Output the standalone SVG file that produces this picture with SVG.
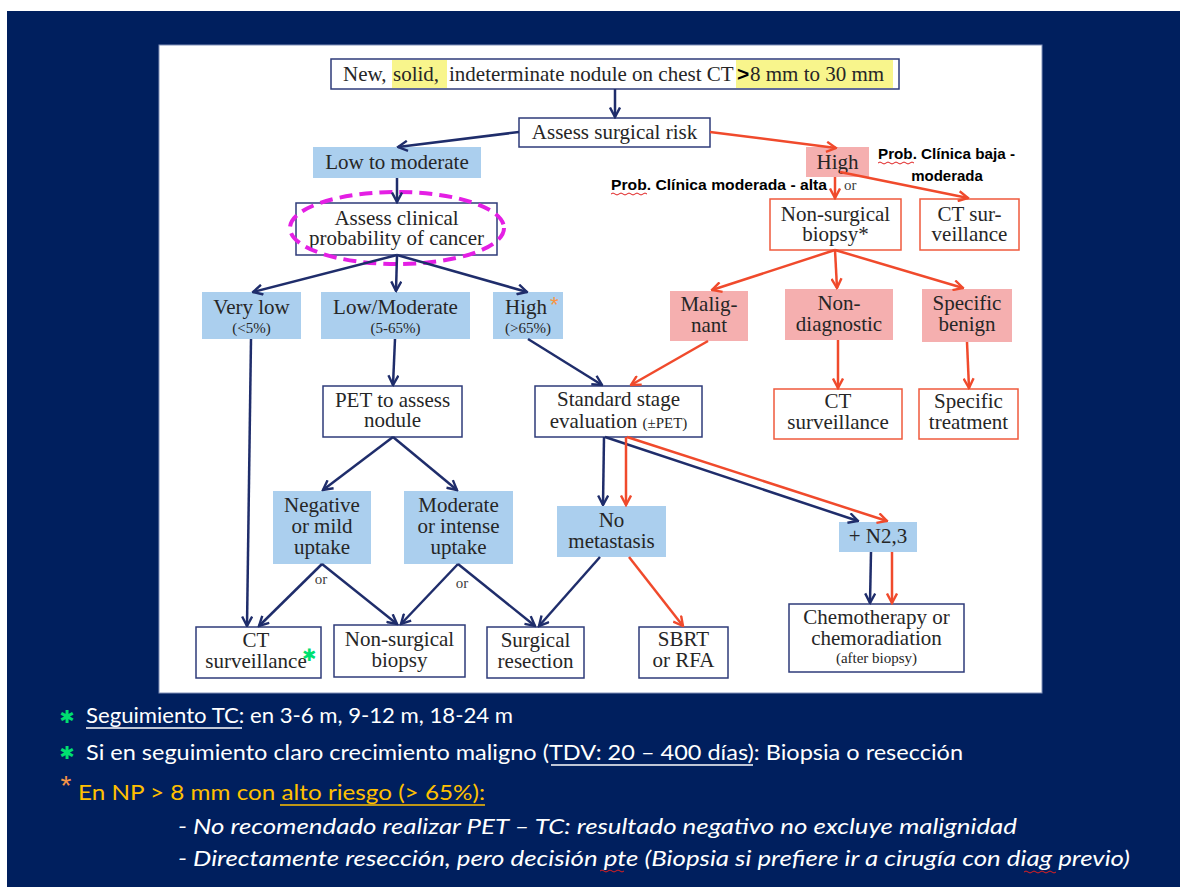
<svg xmlns="http://www.w3.org/2000/svg" width="1180" height="887" viewBox="0 0 1180 887">
<defs>
<style>
.bx{fill:#fff;stroke:#2e3b7a;stroke-width:1.5}
.rbx{fill:#fff;stroke:#ef5a3c;stroke-width:1.5}
.bf{fill:#abcfee}
.pf{fill:#f5afaf}
.t{font-family:"Liberation Serif","Times New Roman",serif;font-size:21px;fill:#262626;text-anchor:middle}
.s{font-size:15px}
.cb{stroke:#1f2d6b;stroke-width:2.5;fill:none;marker-end:url(#ab)}
.cr{stroke:#f04a2c;stroke-width:2.5;fill:none;marker-end:url(#ar)}
.lab{font-family:"Liberation Sans",Arial,sans-serif;font-weight:bold;font-size:15px;fill:#000}
.bt{font-family:Lato,"Liberation Sans",sans-serif;font-size:22px;fill:#fff}
.it{font-family:Lato,"Liberation Sans",sans-serif;font-size:21px;font-style:italic;fill:#fff}
.sq{fill:none;stroke:#e02020;stroke-width:1}
</style>
<marker id="ab" viewBox="0 0 12 12" refX="10.5" refY="6" markerWidth="12" markerHeight="12" orient="auto" markerUnits="userSpaceOnUse"><path d="M1,1 L10.5,6 L1,11" fill="none" stroke="#1f2d6b" stroke-width="2.4"/></marker>
<marker id="ar" viewBox="0 0 12 12" refX="10.5" refY="6" markerWidth="12" markerHeight="12" orient="auto" markerUnits="userSpaceOnUse"><path d="M1,1 L10.5,6 L1,11" fill="none" stroke="#f04a2c" stroke-width="2.4"/></marker>
</defs>
<rect x="0" y="0" width="1180" height="887" fill="#fff"/>
<rect x="7" y="11" width="1173" height="876" fill="#001f5e"/>
<rect x="159" y="45" width="883" height="648" fill="#fff" stroke="#8090b8" stroke-width="1"/>

<g id="n-top">
<rect class="bx" x="331" y="59" width="568" height="30"/>
<rect x="392" y="60" width="55" height="28" fill="#f8f58c"/>
<rect x="736" y="60" width="157" height="28" fill="#f8f58c"/>
<text class="t" style="text-anchor:start" y="81"><tspan x="343">New,</tspan><tspan x="393">solid,</tspan><tspan x="449">indeterminate nodule on chest CT</tspan><tspan x="737" style="font-family:'Liberation Sans',sans-serif;font-weight:bold;fill:#000">&gt;</tspan><tspan x="750">8 mm to 30 mm</tspan></text>
</g>
<g id="n-risk"><rect class="bx" x="519" y="118" width="191" height="29"/><text class="t" x="614.5" y="139">Assess surgical risk</text></g>
<g id="n-lowmod"><rect class="bf" x="313" y="147" width="168" height="31"/><text class="t" x="397" y="169">Low to moderate</text></g>
<g id="n-high"><rect class="pf" x="806" y="147" width="63" height="30"/><text class="t" x="837.5" y="169">High</text></g>
<g id="n-assess"><rect class="bx" x="296" y="203" width="201" height="52"/><text class="t" x="396.5" y="225">Assess clinical</text><text class="t" x="396.5" y="245">probability of cancer</text>
<ellipse cx="397" cy="228" rx="107" ry="36" fill="none" stroke="#e41fe4" stroke-width="4" stroke-dasharray="13 7"/></g>
<g id="n-nsb-top"><rect class="rbx" x="770" y="199" width="131" height="51"/><text class="t" x="835.5" y="221">Non-surgical</text><text class="t" x="835.5" y="241">biopsy*</text></g>
<g id="n-ct-top"><rect class="rbx" x="920" y="199" width="99" height="51"/><text class="t" x="969.5" y="221">CT sur-</text><text class="t" x="969.5" y="241">veillance</text></g>
<g id="n-verylow"><rect class="bf" x="202" y="292" width="99" height="47"/><text class="t" x="251.5" y="314">Very low</text><text class="t s" x="251.5" y="333">(&lt;5%)</text></g>
<g id="n-lowmod2"><rect class="bf" x="321" y="292" width="149" height="47"/><text class="t" x="395.5" y="314">Low/Moderate</text><text class="t s" x="395.5" y="333">(5-65%)</text></g>
<g id="n-high2"><rect class="bf" x="493" y="292" width="70" height="47"/><text class="t" x="526" y="314">High</text><text class="t s" x="528" y="333">(&gt;65%)</text><text x="550" y="312" style="font-family:'Liberation Sans',sans-serif;font-size:22px;fill:#f79646">*</text></g>
<g id="n-malig"><rect class="pf" x="670" y="291" width="78" height="50"/><text class="t" x="709" y="311">Malig-</text><text class="t" x="709" y="332">nant</text></g>
<g id="n-nondiag"><rect class="pf" x="785" y="289" width="108" height="51"/><text class="t" x="839" y="310">Non-</text><text class="t" x="839" y="331">diagnostic</text></g>
<g id="n-specben"><rect class="pf" x="922" y="289" width="90" height="53"/><text class="t" x="967" y="310">Specific</text><text class="t" x="967" y="331">benign</text></g>
<g id="n-pet"><rect class="bx" x="323" y="386" width="139" height="51"/><text class="t" x="392.5" y="407">PET to assess</text><text class="t" x="392.5" y="427">nodule</text></g>
<g id="n-stage"><rect class="bx" x="535" y="386" width="167" height="51"/><text class="t" x="618.5" y="406">Standard stage</text><text class="t" x="618.5" y="428">evaluation <tspan class="s">(±PET)</tspan></text></g>
<g id="n-ct-r"><rect class="rbx" x="774" y="389" width="128" height="50"/><text class="t" x="838" y="408">CT</text><text class="t" x="838" y="429">surveillance</text></g>
<g id="n-spectreat"><rect class="rbx" x="919" y="389" width="99" height="50"/><text class="t" x="968.5" y="408">Specific</text><text class="t" x="968.5" y="429">treatment</text></g>
<g id="n-neg"><rect class="bf" x="273" y="491" width="98" height="73"/><text class="t" x="322" y="512">Negative</text><text class="t" x="322" y="533">or mild</text><text class="t" x="322" y="554">uptake</text></g>
<g id="n-modint"><rect class="bf" x="404" y="491" width="109" height="73"/><text class="t" x="458.5" y="512">Moderate</text><text class="t" x="458.5" y="533">or intense</text><text class="t" x="458.5" y="554">uptake</text></g>
<g id="n-nomet"><rect class="bf" x="557" y="506" width="109" height="51"/><text class="t" x="611.5" y="527">No</text><text class="t" x="611.5" y="548">metastasis</text></g>
<g id="n-n23"><rect class="bf" x="839" y="522" width="78" height="30"/><text class="t" x="878" y="543">+ N2,3</text></g>
<g id="n-ct-b"><rect class="bx" x="196" y="627" width="125" height="51"/><text class="t" x="256" y="647">CT</text><text class="t" x="256" y="668">surveillance</text><text x="302" y="661" style="font-family:'DejaVu Sans',sans-serif;font-size:17px;font-weight:bold;fill:#00e070">✱</text></g>
<g id="n-nsb-b"><rect class="bx" x="334" y="625" width="131" height="52"/><text class="t" x="399.5" y="646">Non-surgical</text><text class="t" x="399.5" y="667">biopsy</text></g>
<g id="n-surg"><rect class="bx" x="487" y="627" width="97" height="51"/><text class="t" x="535.5" y="647">Surgical</text><text class="t" x="535.5" y="668">resection</text></g>
<g id="n-sbrt"><rect class="bx" x="639" y="627" width="89" height="51"/><text class="t" x="683.5" y="646">SBRT</text><text class="t" x="683.5" y="667">or RFA</text></g>
<g id="n-chemo"><rect class="bx" x="789" y="604" width="175" height="68"/><text class="t" x="876.5" y="624">Chemotherapy or</text><text class="t" x="876.5" y="645">chemoradiation</text><text class="t s" x="876.5" y="663">(after biopsy)</text></g>

<g id="connectors">
<path class="cb" d="M615,89 L615,117"/>
<path class="cb" d="M519,132 L398,147"/>
<path class="cb" d="M397,178 L397,202"/>
<path class="cb" d="M397,255 L253,292"/>
<path class="cb" d="M397,255 L396,291"/>
<path class="cb" d="M397,255 L527,292"/>
<path class="cb" d="M251,339 L247,626"/>
<path class="cb" d="M395,339 L393,385"/>
<path class="cb" d="M528,339 L602,385"/>
<path class="cb" d="M393,437 L323,490"/>
<path class="cb" d="M393,437 L457,490"/>
<path class="cb" d="M322,564 L259,626"/>
<path class="cb" d="M322,564 L397,624"/>
<path class="cb" d="M458,564 L401,624"/>
<path class="cb" d="M458,564 L535,626"/>
<path class="cb" d="M604,437 L603,505"/>
<path class="cb" d="M605,437 L858,521"/>
<path class="cb" d="M600,557 L539,626"/>
<path class="cb" d="M871,552 L870,603"/>
<path class="cr" d="M710,132 L836,148"/>
<path class="cr" d="M835,177 L835,198"/>
<path class="cr" d="M840,172 L968,198"/>
<path class="cr" d="M835,250 L712,290"/>
<path class="cr" d="M835,250 L837,288"/>
<path class="cr" d="M835,250 L963,288"/>
<path class="cr" d="M708,341 L631,385"/>
<path class="cr" d="M838,340 L838,388"/>
<path class="cr" d="M967,342 L969,388"/>
<path class="cr" d="M626,437 L626,505"/>
<path class="cr" d="M627,437 L887,521"/>
<path class="cr" d="M629,557 L683,626"/>
<path class="cr" d="M892,552 L892,603"/>
</g>

<g id="labels">
<text class="lab" x="878" y="159" textLength="137" lengthAdjust="spacingAndGlyphs">Prob. Clínica baja -</text>
<text class="lab" x="947" y="181" text-anchor="middle">moderada</text>
<text class="lab" x="611" y="190" textLength="216" lengthAdjust="spacingAndGlyphs">Prob. Clínica moderada - alta</text>
<path class="sq" d="M878,163 q2,-2 4,0 t4,0 t4,0 t4,0 t4,0 t4,0 t4,0 t4,0 t4,0"/>
<path class="sq" d="M611,194 q2,-2 4,0 t4,0 t4,0 t4,0 t4,0 t4,0 t4,0 t4,0 t4,0"/>
<text class="t s" x="844" y="190" style="text-anchor:start;fill:#404040">or</text>
<text class="t s" x="321" y="584" style="fill:#404040">or</text>
<text class="t s" x="462" y="588" style="fill:#404040">or</text>
</g>

<g id="notes">
<text x="67" y="723" text-anchor="middle" style="font-family:'DejaVu Sans',sans-serif;font-size:18px;font-weight:bold;fill:#00e070">✱</text>
<text class="bt" x="86" y="723" textLength="427" lengthAdjust="spacingAndGlyphs">Seguimiento TC: en 3-6 m, 9-12 m, 18-24 m</text>
<line x1="86" y1="728" x2="242" y2="728" stroke="#fff" stroke-width="1.5"/>
<text x="67" y="759" text-anchor="middle" style="font-family:'DejaVu Sans',sans-serif;font-size:18px;font-weight:bold;fill:#00e070">✱</text>
<text class="bt" x="86" y="760" textLength="877" lengthAdjust="spacingAndGlyphs">Si en seguimiento claro crecimiento maligno (TDV: 20 – 400 días): Biopsia o resección</text>
<line x1="551" y1="765" x2="753" y2="765" stroke="#fff" stroke-width="1.5"/>
<text x="66" y="795" text-anchor="middle" style="font-family:'Liberation Sans',sans-serif;font-size:28px;fill:#f79646">*</text>
<text class="bt" x="78" y="800" textLength="407" lengthAdjust="spacingAndGlyphs" style="fill:#ffc000">En NP &gt; 8 mm con alto riesgo (&gt; 65%):</text>
<line x1="280" y1="805" x2="485" y2="805" stroke="#ffc000" stroke-width="1.5"/>
<text class="it" x="178" y="834" textLength="839" lengthAdjust="spacingAndGlyphs">- No recomendado realizar  PET – TC: resultado negativo no excluye malignidad</text>
<text class="it" x="178" y="866" textLength="952" lengthAdjust="spacingAndGlyphs">- Directamente resección, pero decisión pte (Biopsia si prefiere ir a cirugía con diag previo)</text>
<path class="sq" d="M600,871 q2,-2 4,0 t4,0 t4,0 t4,0 t4,0 t4,0"/>
<path class="sq" d="M1024,872 q2,-2 4,0 t4,0 t4,0 t4,0 t4,0 t4,0 t4,0 t4,0"/>
</g>
</svg>
